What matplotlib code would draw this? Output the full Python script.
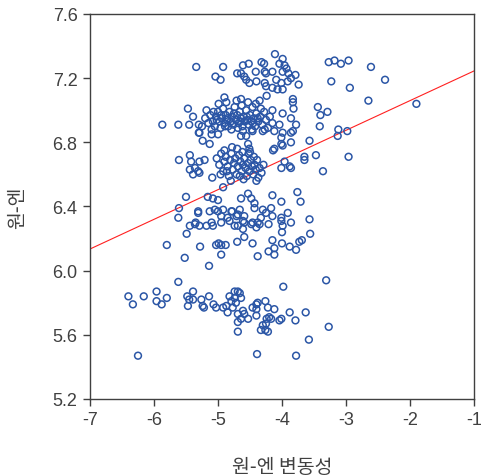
import matplotlib
matplotlib.use("Agg")
import matplotlib.pyplot as plt
import numpy as np

# upper band (about 6.85 - 7.35) and right-hand scatter
upper_x = [-5.34, -4.92, -5.04, -4.96, -4.70, -4.90, -5.47, -5.39, -5.87, -5.62,
           -5.45, -5.30, -5.30, -4.11, -3.99, -4.61, -4.52, -4.32, -4.28, -4.04,
           -3.96, -3.93, -4.64, -4.59, -4.56, -4.41, -4.27, -4.25, -4.15, -3.99,
           -3.90, -3.79, -4.51, -4.40, -4.27, -4.09, -4.01, -3.91, -3.86, -3.74,
           -4.25, -4.15, -4.07, -3.99, -3.27, -3.18, -3.08, -2.96, -3.23, -2.94,
           -4.24, -4.64, -4.35, -3.83, -3.83, -3.82, -3.44, -3.29, -3.40, -3.41,
           -3.12, -4.15, -3.99, -3.86, -3.78, -3.83, -3.99, -4.04, -2.61, -2.39,
           -2.65, -1.90, -2.96]
upper_y = [7.27, 7.27, 7.21, 7.19, 7.23, 7.08, 7.01, 6.96, 6.91, 6.91,
           6.91, 6.91, 6.86, 7.35, 7.32, 7.28, 7.29, 7.30, 7.29, 7.29,
           7.28, 7.26, 7.23, 7.21, 7.19, 7.24, 7.24, 7.23, 7.24, 7.24,
           7.23, 7.22, 7.17, 7.18, 7.17, 7.19, 7.17, 7.18, 7.20, 7.16,
           7.15, 7.14, 7.13, 7.13, 7.30, 7.31, 7.29, 7.31, 7.18, 7.14,
           7.09, 7.07, 7.06, 7.07, 7.05, 7.01, 7.02, 6.99, 6.97, 6.90,
           6.88, 7.00, 6.98, 6.95, 6.91, 6.87, 6.86, 6.91, 7.27, 7.19,
           7.06, 7.04, 6.71]

# dense core of the upper band (around 6.93)
core_x = [-5.20, -5.15, -5.12, -5.08, -5.05, -5.03, -5.00, -4.98, -4.96, -4.94,
          -4.92, -4.90, -4.88, -4.86, -4.84, -4.82, -4.80, -4.78, -4.76, -4.74,
          -4.72, -4.70, -4.68, -4.66, -4.64, -4.62, -4.60, -4.58, -4.56, -4.54,
          -4.52, -4.50, -4.48, -4.46, -4.44, -4.42, -4.40, -4.37, -4.34, -4.31,
          -4.28, -4.25, -4.22, -4.19, -4.15, -4.12, -5.25, -5.18, -5.10, -4.99,
          -4.87, -4.79, -4.71, -4.63, -4.53, -4.47, -4.41, -4.33, -4.27, -5.07,
          -4.95, -4.85, -4.75, -4.65, -4.55, -4.45, -4.38, -4.89, -4.69, -5.02]
core_y = [6.95, 6.92, 6.97, 6.93, 6.90, 6.96, 6.99, 6.93, 6.89, 6.95,
          7.01, 6.92, 6.97, 6.94, 6.90, 6.99, 6.93, 6.96, 6.91, 7.02,
          6.94, 6.97, 6.92, 6.99, 6.95, 6.90, 6.96, 6.93, 7.00, 6.94,
          6.91, 6.97, 6.93, 7.02, 6.95, 6.90, 6.98, 6.93, 6.96, 6.91,
          6.99, 6.94, 6.89, 6.96, 6.92, 6.87, 6.90, 7.00, 6.88, 7.04,
          7.05, 6.88, 7.06, 7.03, 7.05, 6.88, 7.04, 7.01, 6.88, 6.99,
          6.97, 6.95, 6.98, 6.93, 6.96, 6.92, 6.95, 6.90, 6.89, 6.94]

# middle band (about 6.55 - 6.85)
mid_x = [-4.61, -4.46, -4.30, -4.64, -4.56, -3.86, -4.01, -3.13, -2.98, -4.78,
         -4.53, -4.51, -4.52, -4.01, -3.86, -3.99, -4.12, -4.14, -3.57, -4.01,
         -3.88, -3.86, -3.96, -3.65, -3.65, -3.47, -3.36, -5.29, -5.10, -5.00,
         -5.24, -5.13, -5.44, -5.61, -5.42, -5.29, -5.21, -5.44, -5.36, -5.31,
         -5.39, -5.29, -5.09,
         -5.02, -4.98, -4.95, -4.92, -4.90, -4.88, -4.85, -4.83, -4.81, -4.79,
         -4.77, -4.75, -4.73, -4.71, -4.69, -4.67, -4.65, -4.63, -4.61, -4.59,
         -4.57, -4.55, -4.53, -4.51, -4.49, -4.47, -4.45, -4.43, -4.41, -4.39,
         -4.37, -4.35, -4.32, -4.29, -4.90, -4.70, -4.60, -4.50, -4.40, -4.80,
         -4.96, -4.62, -4.44, -4.86, -4.66]
mid_y = [6.87, 6.87, 6.87, 6.84, 6.84, 6.86, 6.83, 6.84, 6.87, 6.77,
         6.79, 6.76, 6.73, 6.79, 6.80, 6.78, 6.76, 6.75, 6.81, 6.64,
         6.65, 6.64, 6.68, 6.71, 6.69, 6.72, 6.62, 6.86, 6.85, 6.85,
         6.81, 6.79, 6.72, 6.69, 6.68, 6.68, 6.69, 6.63, 6.64, 6.62,
         6.60, 6.61, 6.58,
         6.70, 6.66, 6.73, 6.62, 6.68, 6.71, 6.65, 6.59, 6.69, 6.73,
         6.63, 6.67, 6.70, 6.60, 6.65, 6.72, 6.68, 6.62, 6.66, 6.70,
         6.64, 6.59, 6.67, 6.62, 6.69, 6.65, 6.60, 6.66, 6.63, 6.69,
         6.58, 6.64, 6.61, 6.66, 6.75, 6.76, 6.57, 6.74, 6.56, 6.56,
         6.60, 6.74, 6.71, 6.62, 6.59]

# lower-middle band (about 6.0 - 6.5)
low_x = [-3.76, -4.15, -4.01, -3.71, -4.53, -4.64, -4.48, -4.43, -4.43, -4.66,
         -4.79, -4.71, -4.59, -4.30, -4.25, -4.17, -4.33, -4.15, -4.01, -3.91,
         -3.99, -4.21, -4.35, -4.46, -4.59, -3.57, -3.86, -4.92, -5.50, -5.16,
         -5.08, -5.00, -5.61, -5.62, -5.31, -5.31, -5.13, -5.05, -5.00, -4.92,
         -4.95, -4.85, -4.78, -4.69, -5.44, -5.36, -5.29, -5.18, -5.08, -5.49,
         -5.35, -5.10, -4.95, -4.82, -4.69, -5.80, -5.52, -5.28, -5.03, -4.99,
         -4.95, -4.88, -4.95, -4.70, -5.14, -5.62, -4.74, -4.61, -4.48, -4.40,
         -4.38, -4.01, -4.61, -4.00, -3.56, -4.59, -4.46, -4.15, -4.21, -4.12,
         -4.12, -4.00, -3.88, -3.78, -3.73, -3.69, -4.38, -3.31, -3.98]
low_y = [6.49, 6.47, 6.43, 6.43, 6.48, 6.45, 6.45, 6.42, 6.39, 6.38,
         6.37, 6.34, 6.34, 6.38, 6.36, 6.39, 6.33, 6.34, 6.33, 6.36,
         6.28, 6.29, 6.29, 6.30, 6.30, 6.32, 6.30, 6.52, 6.46, 6.46,
         6.45, 6.44, 6.39, 6.33, 6.37, 6.36, 6.37, 6.38, 6.37, 6.38,
         6.34, 6.33, 6.37, 6.35, 6.28, 6.29, 6.28, 6.28, 6.28, 6.23,
         6.30, 6.30, 6.30, 6.31, 6.28, 6.16, 6.08, 6.15, 6.16, 6.17,
         6.16, 6.16, 6.10, 6.18, 6.03, 5.93, 6.28, 6.31, 6.29, 6.27,
         6.30, 6.31, 6.26, 6.24, 6.23, 6.21, 6.17, 6.19, 6.12, 6.14,
         6.10, 6.17, 6.15, 6.13, 6.18, 6.19, 6.09, 5.94, 5.90]

# bottom band (about 5.45 - 5.9)
bottom_x = [-6.40, -6.33, -6.16, -5.96, -5.96, -5.88, -5.80, -5.48, -5.45, -5.39,
            -5.39, -5.47, -5.26, -5.24, -5.22, -5.14, -5.07, -5.03, -4.92, -4.87,
            -4.85, -4.79, -4.74, -4.72, -4.69, -6.25, -4.69, -4.69, -4.69, -4.82,
            -4.74, -4.66, -4.64, -4.77, -4.59, -4.61, -4.46, -4.40, -4.26, -4.22,
            -4.12, -4.40, -4.20, -4.01, -3.88, -3.63, -4.38, -4.40, -4.64, -4.53,
            -4.24, -4.17, -4.04, -3.79, -4.25, -4.30, -4.33, -4.26, -4.22, -3.27,
            -3.58, -4.39, -3.78]
bottom_y = [5.84, 5.79, 5.84, 5.87, 5.81, 5.79, 5.83, 5.84, 5.82, 5.87,
            5.82, 5.78, 5.82, 5.78, 5.77, 5.84, 5.79, 5.77, 5.77, 5.78,
            5.74, 5.81, 5.83, 5.80, 5.87, 5.47, 5.73, 5.68, 5.62, 5.84,
            5.87, 5.86, 5.83, 5.77, 5.73, 5.75, 5.77, 5.79, 5.81, 5.77,
            5.76, 5.72, 5.71, 5.70, 5.74, 5.74, 5.80, 5.76, 5.70, 5.70,
            5.70, 5.70, 5.69, 5.69, 5.67, 5.66, 5.63, 5.63, 5.62, 5.65,
            5.57, 5.48, 5.47]

# fitted line shown in the chart
fit_intercept = 7.245   # value at x = -1
fit_slope = 0.185

x_ticks = [-7, -6, -5, -4, -3, -2, -1]
y_ticks = [5.2, 5.6, 6.0, 6.4, 6.8, 7.2, 7.6]

plt.rcParams["font.family"] = ["Liberation Sans", "Noto Sans CJK KR"]

fig = plt.figure(figsize=(4.82, 4.77), dpi=100)
ax = fig.add_axes([90 / 482, 1 - 400 / 477, 384 / 482, 385 / 477])

xs = np.concatenate([upper_x, core_x, mid_x, low_x, bottom_x])
ys = np.concatenate([upper_y, core_y, mid_y, low_y, bottom_y])
ax.scatter(xs, ys, s=24, facecolors="none", edgecolors="#2b56a6", linewidths=1.1, zorder=3)

lx = np.array([-7, -1])
ax.plot(lx, fit_intercept + fit_slope * (lx + 1), color="#ff2020", lw=0.8, zorder=2)

ax.set_xlim(-7, -1)
ax.set_ylim(5.2, 7.6)
ax.set_xticks(x_ticks)
ax.set_xticklabels([str(t) for t in x_ticks])
ax.set_yticks(y_ticks)
ax.set_yticklabels([f"{t:.1f}" for t in y_ticks])

for sp in ax.spines.values():
    sp.set_color("#404040")
    sp.set_linewidth(1.0)
ax.tick_params(direction="out", length=5, width=1.0, color="#404040",
               labelcolor="#404040", labelsize=13, pad=4)

ax.set_xlabel("원-엔 변동성", family=["Noto Sans CJK KR"], fontsize=14, color="#404040")
ax.set_ylabel("원-엔", family=["Noto Sans CJK KR"], fontsize=14, color="#404040")
ax.xaxis.set_label_coords(0.5, -(468 - 400) / 385)
ax.xaxis.label.set_va("center")
ax.yaxis.set_label_coords(-(90 - 18) / 384, 0.5)
ax.yaxis.label.set_va("center")

fig.savefig("out.png", dpi=100)
